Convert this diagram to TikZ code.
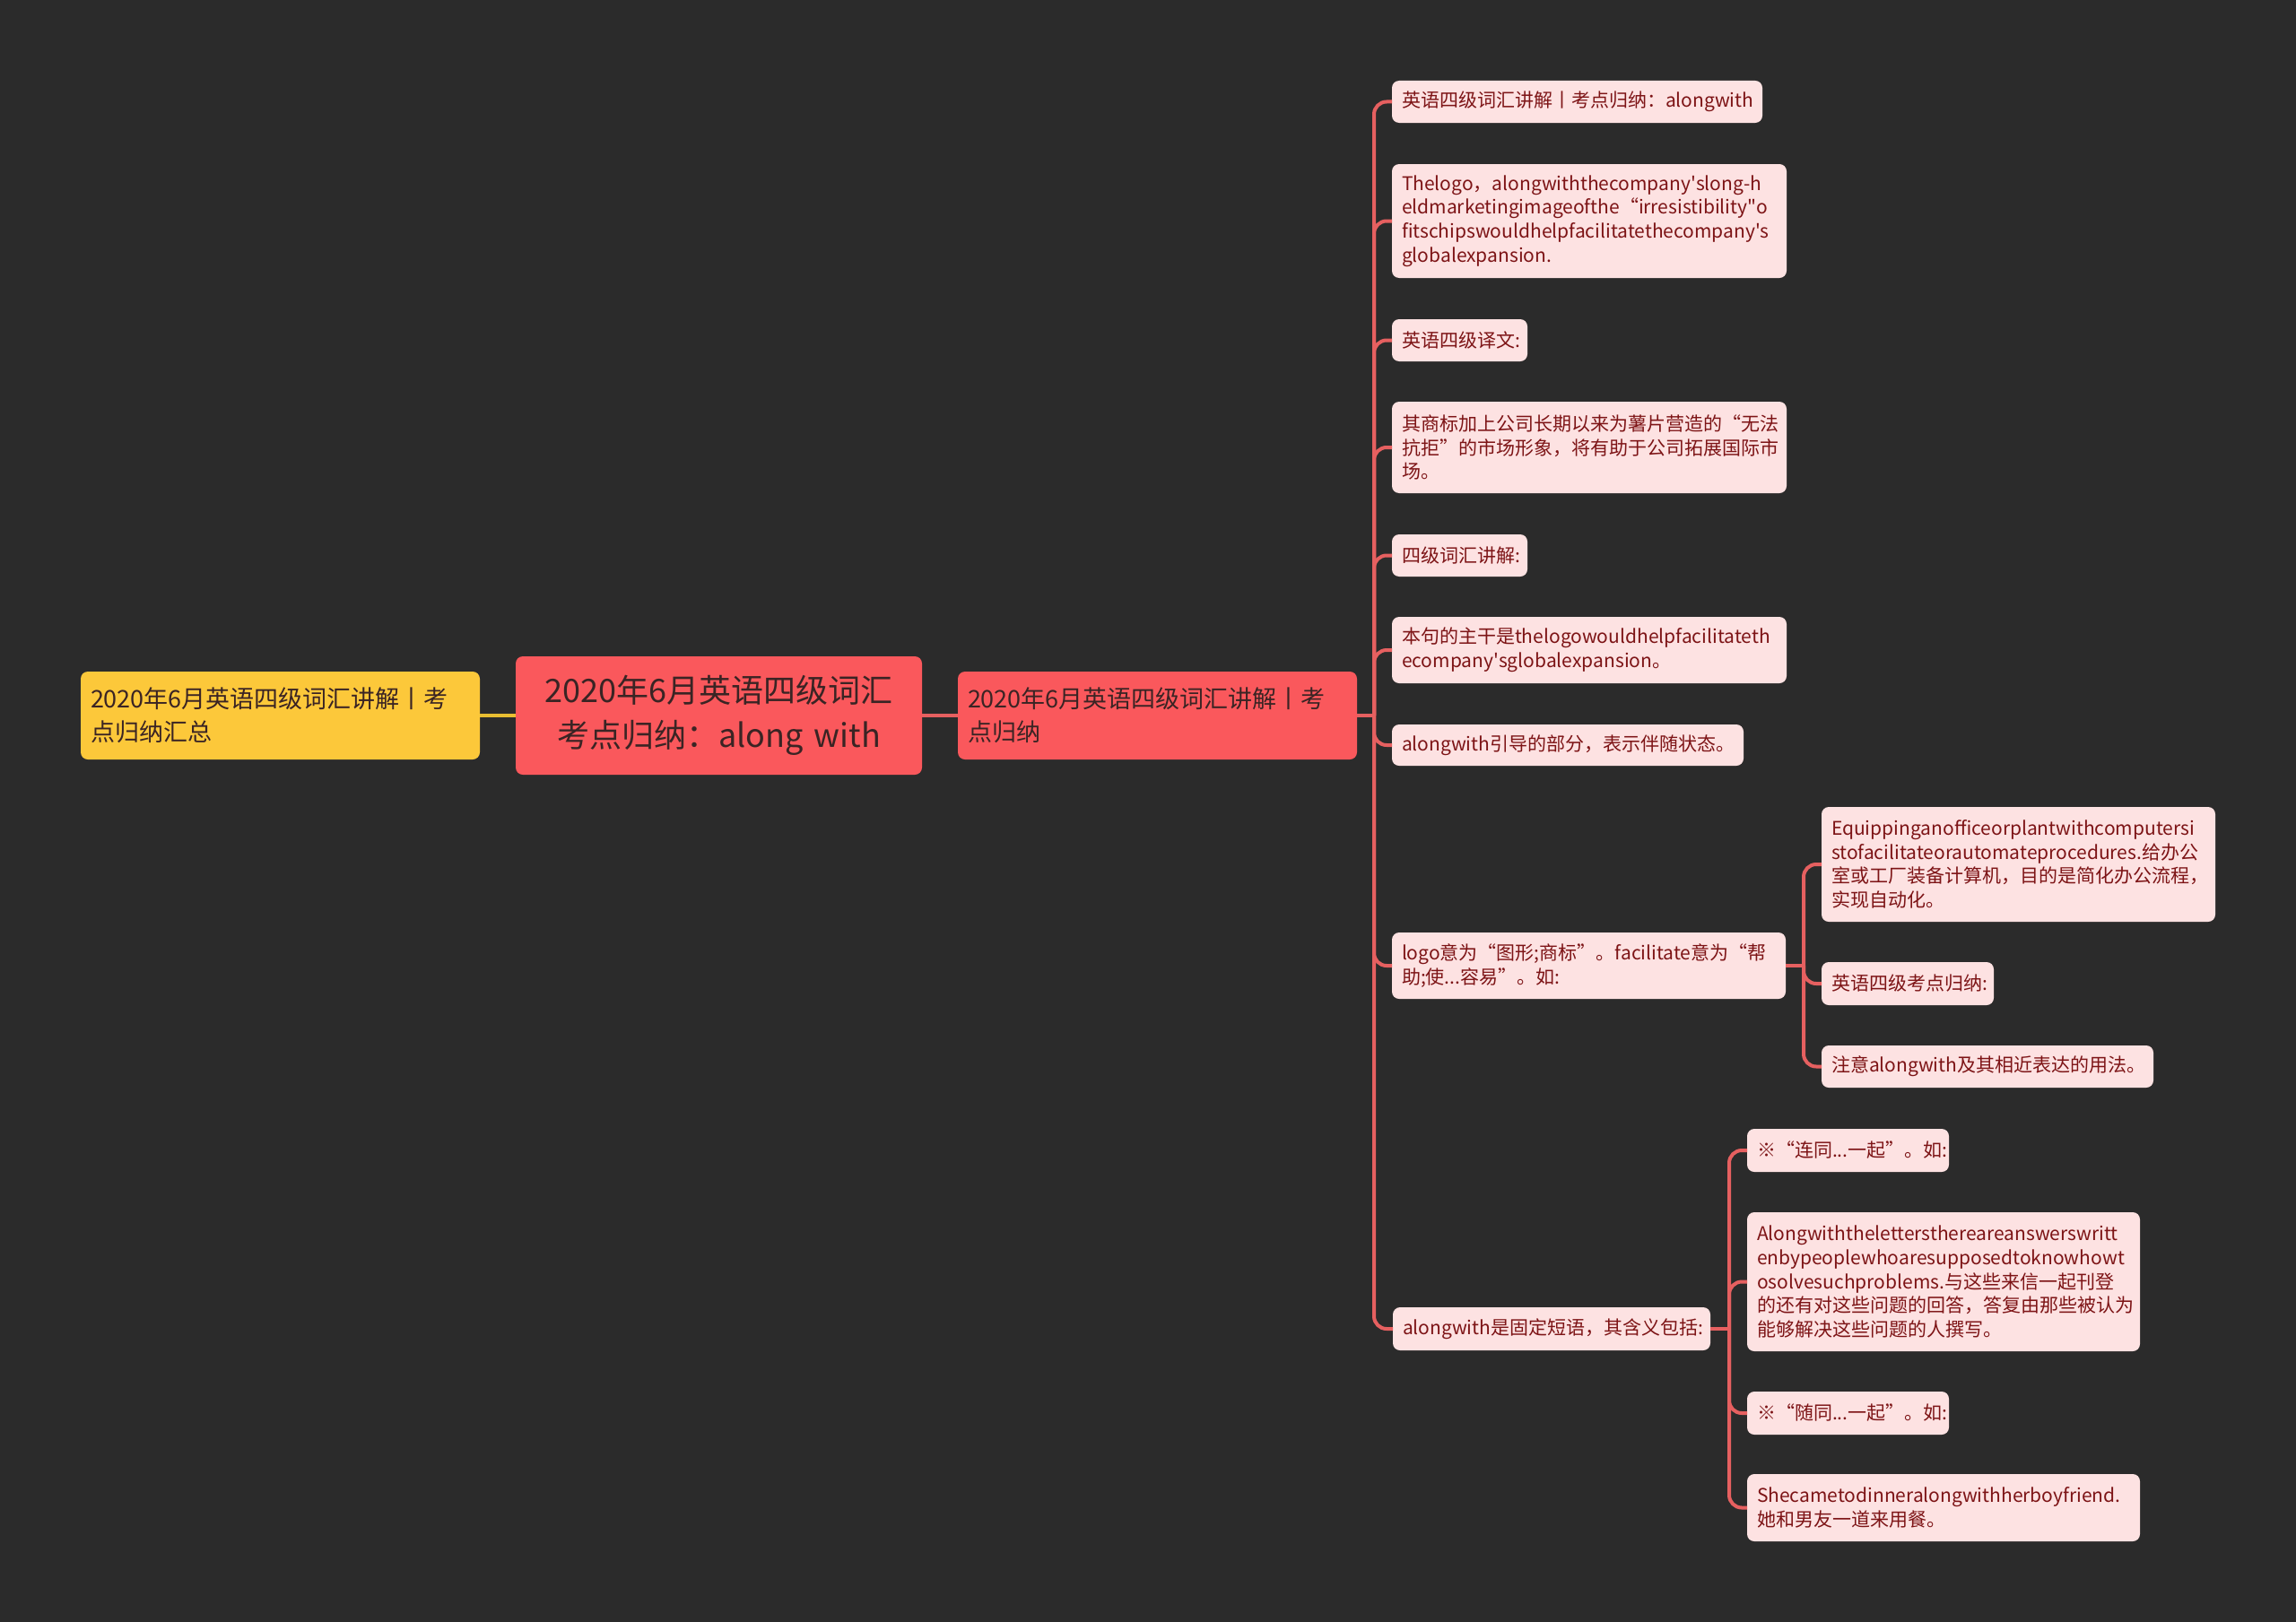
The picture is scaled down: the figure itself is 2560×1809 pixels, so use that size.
\documentclass[tikz,border=0pt]{standalone}
\usepackage{fontspec}
\setmainfont{Noto Sans CJK SC}
\definecolor{bgc}{RGB}{43,43,43}
\definecolor{leaffill}{RGB}{253,226,226}
\definecolor{leaftext}{RGB}{125,20,22}
\definecolor{redfill}{RGB}{250,88,92}
\definecolor{darktext}{RGB}{58,36,36}
\definecolor{ycol}{RGB}{252,200,58}
\definecolor{linered}{RGB}{230,96,96}
\definecolor{lineyel}{RGB}{232,190,50}
\tikzset{
  basebox/.style={anchor=north west, outer sep=0pt, inner xsep=8.25pt, inner ysep=0pt, rounded corners=6pt, align=left},
  leafbox/.style={basebox, fill=leaffill, text=leaftext, font=\fontsize{15.75}{20}\selectfont},
  midbox/.style={basebox, fill=redfill, text=darktext, font=\fontsize{20.25}{27.75}\selectfont},
  ybox/.style={basebox, fill=ycol, text=darktext, font=\fontsize{20.25}{27.75}\selectfont},
  rootbox/.style={basebox, fill=redfill, text=darktext, align=center, font=\fontsize{27}{37.5}\selectfont},
  conn/.style={draw=linered, line width=3pt, rounded corners=10.5pt},
  yconn/.style={draw=lineyel, line width=3pt},
}
\newcommand\bx[7]{\node[#1, minimum width={(#5-#3)*0.75pt}, minimum height={(#6-#4)*0.75pt}, text width={(#5-#3-22)*0.75pt}] (#2) at (#3,#4) {#7};}
\newcommand\sq{\textquotesingle}
\newcommand\dq{\textquotedbl}
\begin{document}
\begin{tikzpicture}[x=0.75pt,y=-0.75pt]
\fill[bgc] (0,0) rectangle (2560,1809);
\useasboundingbox (0,0) rectangle (2560,1809);

\bx{ybox}{yb}{90}{749}{535}{847}{2020年6月英语四级词汇讲解丨考\\点归纳汇总}
\bx{rootbox}{root}{575}{732}{1028}{864}{2020年6月英语四级词汇\\考点归纳：along with}
\bx{midbox}{L1}{1068}{749}{1513}{847}{2020年6月英语四级词汇讲解丨考\\点归纳}

\bx{leafbox}{c1}{1552}{90}{1965}{137}{英语四级词汇讲解丨考点归纳：alongwith}
\bx{leafbox}{c2}{1552}{183}{1992}{310}{Thelogo，alongwiththecompany\sq slong-h\\eldmarketingimageofthe“irresistibility\dq o\\fitschipswouldhelpfacilitatethecompany\sq s\\globalexpansion.}
\bx{leafbox}{c3}{1552}{356}{1703}{403}{英语四级译文:}
\bx{leafbox}{c4}{1552}{448}{1992}{550}{其商标加上公司长期以来为薯片营造的“无法\\抗拒”的市场形象，将有助于公司拓展国际市\\场。}
\bx{leafbox}{c5}{1552}{596}{1703}{643}{四级词汇讲解:}
\bx{leafbox}{c6}{1552}{688}{1992}{762}{本句的主干是thelogowouldhelpfacilitateth\\ecompany\sq sglobalexpansion。}
\bx{leafbox}{c7}{1552}{808}{1944}{854}{alongwith引导的部分，表示伴随状态。}
\bx{leafbox}{c8}{1552}{1040}{1991}{1114}{logo意为“图形;商标”。facilitate意为“帮\\助;使...容易”。如:}
\bx{leafbox}{c9}{1553}{1458}{1907}{1506}{alongwith是固定短语，其含义包括:}

\bx{leafbox}{d1}{2031}{900}{2470}{1028}{Equippinganofficeorplantwithcomputersi\\stofacilitateorautomateprocedures.给办公\\室或工厂装备计算机，目的是简化办公流程，\\实现自动化。}
\bx{leafbox}{d2}{2031}{1073}{2223}{1121}{英语四级考点归纳:}
\bx{leafbox}{d3}{2031}{1166}{2401}{1213}{注意alongwith及其相近表达的用法。}

\bx{leafbox}{e1}{1948}{1259}{2173}{1307}{※“连同...一起”。如:}
\bx{leafbox}{e2}{1948}{1352}{2386}{1507}{Alongwiththelettersthereareanswerswritt\\enbypeoplewhoaresupposedtoknowhowt\\osolvesuchproblems.与这些来信一起刊登\\的还有对这些问题的回答，答复由那些被认为\\能够解决这些问题的人撰写。}
\bx{leafbox}{e3}{1948}{1552}{2173}{1600}{※“随同...一起”。如:}
\bx{leafbox}{e4}{1948}{1644}{2386}{1719}{Shecametodinneralongwithherboyfriend.\\她和男友一道来用餐。}

\coordinate (tA) at (1532,0);
\coordinate (tB) at (2011,0);
\coordinate (tC) at (1928,0);

\draw[yconn] (yb.east) -- (root.west);
\draw[conn] (root.east) -- (L1.west);
\draw[conn] (L1.east) -- (L1.east -| tA);
\foreach \i in {1,...,9} \draw[conn] (L1.east -| tA) |- (c\i.west);
\draw[conn] (c8.east) -- (c8.east -| tB);
\foreach \i in {1,2,3} \draw[conn] (c8.east -| tB) |- (d\i.west);
\draw[conn] (c9.east) -- (c9.east -| tC);
\foreach \i in {1,2,3,4} \draw[conn] (c9.east -| tC) |- (e\i.west);
\end{tikzpicture}
\end{document}
